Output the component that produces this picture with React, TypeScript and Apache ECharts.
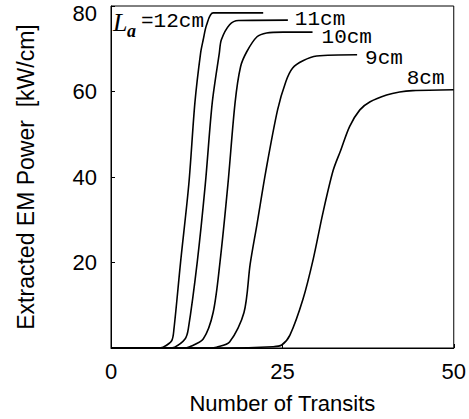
import React, { useEffect, useRef } from "react";
import * as echarts from "echarts";

const xTicks = [0, 25, 50];
const yTicks = [20, 40, 60, 80];

const la12 = [[0, 0], [6.8, 0], [7.6, 0.2], [8.85, 1.7], [9.18, 4.4], [10.15, 20.1], [11.35, 38.3], [12.24, 57.4], [13.07, 69.0], [13.45, 72.1], [13.95, 75.6], [14.9, 78.4], [22.2, 78.4]];
const la11 = [[0, 0], [8.4, 0], [9.3, 0.2], [10.8, 2.1], [11.27, 4.4], [12.58, 20.1], [13.75, 38.2], [14.77, 57.4], [15.8, 69.0], [16.1, 72.1], [17.3, 75.6], [18.6, 76.6], [25.8, 76.7]];
const la10 = [[0, 0], [10.5, 0], [11.5, 0.3], [13.45, 2.1], [14.9, 8.3], [15.9, 20.1], [17.05, 38.2], [18.1, 57.4], [18.9, 65.8], [19.8, 69.3], [21.3, 72.8], [22.7, 73.7], [25.1, 73.9], [29.4, 73.9]];
const la9 = [[0, 0], [14.5, 0], [15.4, 0.2], [17.3, 1.4], [19.4, 8.3], [20.3, 19.6], [21.3, 29.0], [22.6, 41.5], [24.3, 55.7], [25.5, 62.3], [26.5, 65.5], [28.0, 67.2], [30.0, 68.3], [35.9, 68.6]];
const la8 = [[0, 0], [16.6, 0], [23.6, 0.3], [24.9, 0.7], [26.1, 3.0], [28.0, 11.4], [29.5, 20.8], [30.9, 31.5], [32.4, 41.5], [33.5, 46.2], [34.8, 51.8], [36.3, 55.7], [37.8, 57.6], [40.2, 59.2], [42.1, 59.9], [44.0, 60.2], [50, 60.4]];

const curveLabels = ["12cm", "11cm", "10cm", "9cm", "8cm"];

const SANS = "'Liberation Sans', Arial, sans-serif";
const MONO = "'Liberation Mono', 'Courier New', monospace";
const SERIF = "'Liberation Serif', 'Times New Roman', serif";

export default function App() {
  const ref = useRef<HTMLDivElement>(null);
  useEffect(() => {
    if (!ref.current) return;
    const chart = echarts.init(ref.current, null, { renderer: "svg" });
    const mk = (data: number[][], label: string, distance: number, offset: number[]) => ({
      type: "line",
      data,
      showSymbol: false,
      symbol: "none",
      smooth: 0.3,
      lineStyle: { color: "#000", width: 1.6 },
      endLabel: label
        ? {
            show: true,
            formatter: label,
            fontFamily: MONO,
            fontSize: 21,
            lineHeight: 15,
            color: "#000",
            distance,
            offset,
          }
        : { show: false },
    });
    chart.setOption({
      animation: false,
      backgroundColor: "#fff",
      grid: {
        left: 111,
        right: 15,
        top: 6,
        bottom: 70,
        show: true,
        borderColor: "#000",
        borderWidth: 1,
      },
      xAxis: {
        type: "value",
        min: xTicks[0],
        max: xTicks[xTicks.length - 1],
        interval: 25,
        name: "Number of Transits",
        nameLocation: "middle",
        nameGap: 44,
        nameTextStyle: { fontFamily: SANS, fontSize: 22, color: "#000" },
        axisLine: { show: true, lineStyle: { color: "#000", width: 1 } },
        axisTick: { show: true, inside: true, length: 4, lineStyle: { color: "#000" } },
        axisLabel: { fontFamily: SANS, fontSize: 22, color: "#000", margin: 12 },
        splitLine: { show: false },
      },
      yAxis: {
        type: "value",
        min: 0,
        max: yTicks[yTicks.length - 1],
        interval: 20,
        name: "Extracted EM Power  [kW/cm]",
        nameLocation: "middle",
        nameGap: 74,
        nameTextStyle: { fontFamily: SANS, fontSize: 23, color: "#000" },
        axisLine: { show: true, lineStyle: { color: "#000", width: 1 } },
        axisTick: { show: true, inside: true, length: 4, lineStyle: { color: "#000" } },
        axisLabel: {
          fontFamily: SANS,
          fontSize: 22,
          color: "#000",
          margin: 14,
          showMinLabel: false,
          formatter: (v: number) => (v === 80 ? "{t|" + v + "}" : String(v)),
          rich: { t: { fontFamily: SANS, fontSize: 22, color: "#000", padding: [14, 0, 0, 0] } },
        },
        splitLine: { show: false },
      },
      series: [
        mk(la12, "", 0, [0, 0]),
        mk(la11, curveLabels[1], 7, [0, -1]),
        mk(la10, curveLabels[2], 9, [0, 5]),
        mk(la9, curveLabels[3], 8, [0, 4]),
        mk(la8, curveLabels[4], 0, [-47, -11]),
      ],
      graphic: [
        {
          type: "text",
          left: 113,
          top: 9,
          style: { text: "L", font: "italic 26px " + SERIF, fill: "#000" },
        },
        {
          type: "text",
          left: 127,
          top: 22,
          style: { text: "a", font: "italic bold 18px " + SERIF, fill: "#000" },
        },
        {
          type: "text",
          left: 141,
          top: 11,
          style: { text: "=" + curveLabels[0], font: "21px " + MONO, fill: "#000" },
        },
      ],
    });
    return () => chart.dispose();
  }, []);
  return (
    <div
      ref={ref}
      style={{ position: "absolute", left: 0, top: 0, width: 469, height: 419 }}
    />
  );
}
